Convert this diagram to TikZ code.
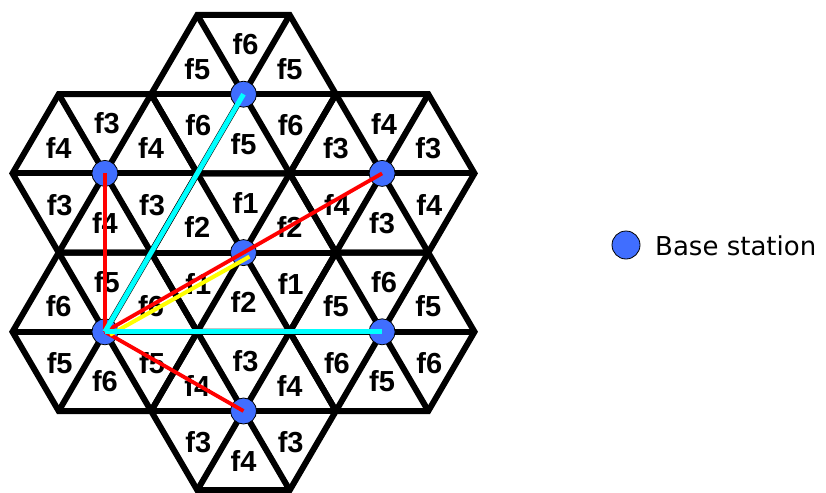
\documentclass[tikz,border=0pt]{standalone}
\usepackage{fontspec}
\setmainfont{Liberation Sans}
\newfontfamily\legendfont{DejaVu Sans}
\definecolor{bsblue}{RGB}{64,110,255}
\definecolor{aqua}{RGB}{0,255,255}
\definecolor{pureyellow}{RGB}{255,255,0}
\definecolor{purered}{RGB}{255,0,0}
\begin{document}
\begin{tikzpicture}[x=1pt,y=-1pt,
  gridline/.style={line width=6pt,black},
  lab/.style={font=\fontsize{29}{29}\selectfont\bfseries, inner sep=0pt},
  bs/.style={circle, fill=bsblue, draw=black, line width=0.8pt, minimum size=26pt, inner sep=0pt},
  redl/.style={purered, line width=3.8pt},
  cyanl/.style={aqua, line width=5pt},
  yell/.style={pureyellow, line width=4pt}]
\useasboundingbox (0,0) rectangle (826,492);
\def\sh{46.2}
\def\vh{79.2}
\foreach \a/\b/\t/\ur/\lr/\bo/\ll/\ul in {
  5/1/f6/f5/f6/f5/f6/f5,
  2/2/f3/f4/f3/f4/f3/f4,
  8/2/f4/f3/f4/f3/f4/f3,
  5/3/f1/f2/f1/f2/f1/f2,
  2/4/f5/f6/f5/f6/f5/f6,
  8/4/f6/f5/f6/f5/f6/f5,
  5/5/f3/f4/f3/f4/f3/f4}{
  \pgfmathsetmacro\cx{12.5+\sh*\a}
  \pgfmathsetmacro\cy{15+\vh*\b}
  \draw[gridline] (\cx-2*\sh,\cy) -- (\cx-\sh,\cy-\vh) -- (\cx+\sh,\cy-\vh) -- (\cx+2*\sh,\cy) -- (\cx+\sh,\cy+\vh) -- (\cx-\sh,\cy+\vh) -- cycle;
  \draw[gridline] (\cx-2*\sh,\cy) -- (\cx+2*\sh,\cy);
  \draw[gridline] (\cx-\sh,\cy-\vh) -- (\cx+\sh,\cy+\vh);
  \draw[gridline] (\cx+\sh,\cy-\vh) -- (\cx-\sh,\cy+\vh);
  \node[lab] at (\cx+2,\cy-2*\vh/3+3) {\t};
  \node[lab] at (\cx+\sh,\cy-\vh/3+1) {\ur};
  \node[lab] at (\cx+\sh+1,\cy+\vh/3+5) {\lr};
  \node[lab] at (\cx,\cy+2*\vh/3-3) {\bo};
  \node[lab] at (\cx-\sh+1,\cy+\vh/3+5) {\ll};
  \node[lab] at (\cx-\sh,\cy-\vh/3+1) {\ul};
}
\foreach \a/\b in {5/1,2/2,8/2,5/3,2/4,8/4,5/5}{
  \node[bs] (s\a\b) at (12.5+\sh*\a,15+\vh*\b) {};
}
\draw[redl] (s22.center) -- (s24.center);
\draw[redl] (s24.center) -- (s55.center);
\draw[redl] (s24.center) -- (s82.center);
\draw[yell] ([xshift=5pt,yshift=-3pt]s24.center) -- ([xshift=6pt,yshift=-4pt]s53.center);
\draw[cyanl] (s24.center) -- (s51.center);
\draw[cyanl] (s24.center) -- (s84.center);
\node[bs, minimum size=28pt] (leg) at (626,245) {};
\node[anchor=base west, inner sep=0pt, font=\legendfont\fontsize{26}{26}\selectfont] (legt) at (655,255) {Base station};
\end{tikzpicture}
\end{document}
